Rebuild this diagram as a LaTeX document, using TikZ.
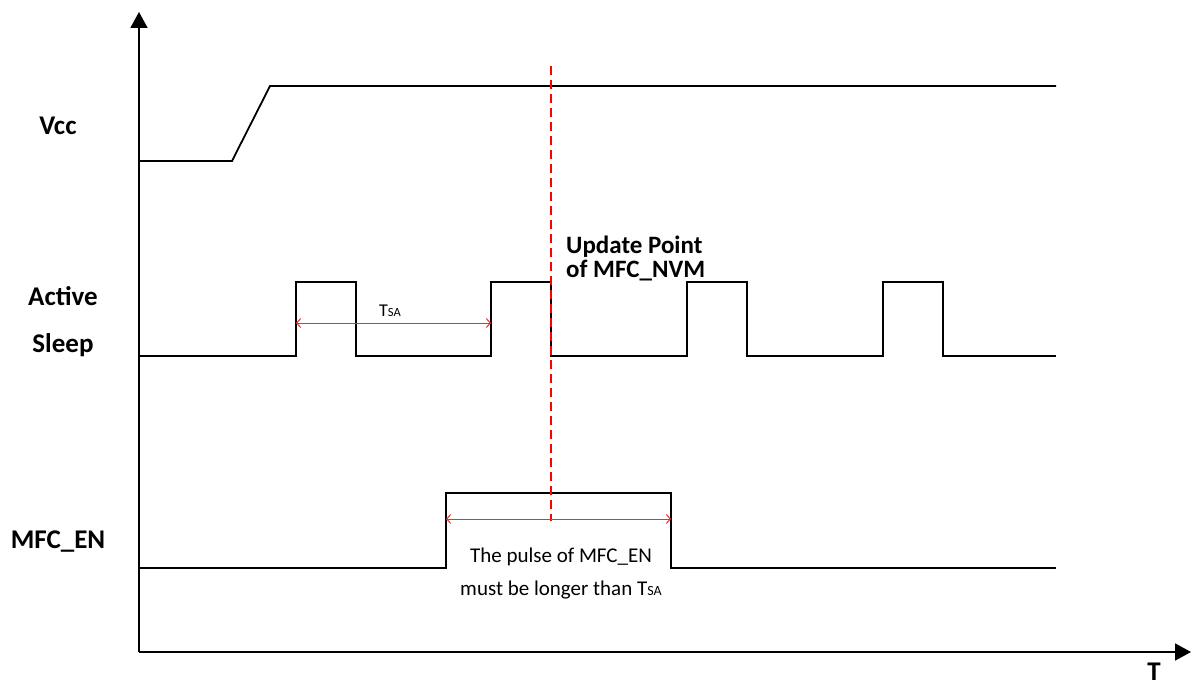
\documentclass[tikz,border=0pt]{standalone}
\usepackage{fontspec}
\setmainfont{Carlito}
\usetikzlibrary{arrows.meta}
\begin{document}
\begin{tikzpicture}[x=1pt,y=-1pt,
  sig/.style={line width=1.8pt, line join=miter},
  axis/.style={line width=1.8pt,-{Triangle[length=16pt,width=17pt]}},
  meas/.style={red!85!white, line width=1pt, {Straight Barb[length=4pt,width=9pt]}-{Straight Barb[length=4pt,width=9pt]}},
  updline/.style={red, line width=2pt, dash pattern=on 9pt off 5pt},
  lbl/.style={font=\fontsize{27}{30}\selectfont\bfseries, inner sep=0pt},
  upd/.style={font=\fontsize{25}{28}\selectfont\bfseries, inner sep=0pt},
  note/.style={font=\fontsize{21}{24}\selectfont, inner sep=0pt}]
\useasboundingbox (0,0) rectangle (1191,682);
% axes
\coordinate (o) at (139,652);
\coordinate (ytip) at (139,12);
\coordinate (xtip) at (1191,652);
\draw[axis] (o) -- (ytip);
\draw[axis] (o) -- (xtip);
% labels
\node[lbl, anchor=base] (vcc) at (58,135) {Vcc};
\node[lbl, anchor=base] (act) at (63,305) {Active};
\node[lbl, anchor=base] (slp) at (63,352) {Sleep};
\node[lbl, anchor=base] (en) at (58,548) {MFC\_EN};
\node[lbl, anchor=base] (t) at (1154,680) {T};
% Vcc waveform
\draw[sig] (139,161) -- (232,161) -- (270,86) -- (1056,86);
% Active / Sleep waveform
\draw[sig] (139,356) -- (296,356) -- (296,282) -- (356,282) -- (356,356)
  -- (491,356) -- (491,282) -- (551,282) -- (551,356)
  -- (687,356) -- (687,282) -- (747,282) -- (747,356)
  -- (883,356) -- (883,282) -- (943,282) -- (943,356) -- (1056,356);
% MFC_EN waveform
\draw[sig] (139,568) -- (446,568) -- (446,493) -- (671,493) -- (671,568) -- (1056,568);
% update point marker
\coordinate (m1) at (551,66);
\coordinate (m2) at (551,521);
\draw[updline] (m1) -- (m2);
\node[upd, anchor=base west] (u1) at (566,253) {Update Point};
\node[upd, anchor=base west] (u2) at (566,277) {of MFC\_NVM};
% TSA measurement
\coordinate (a1) at (296,323);
\coordinate (a2) at (491,323);
\draw[meas] (a1) -- (a2);
\node[anchor=base west, inner sep=0pt, font=\fontsize{18}{20}\selectfont] (tsa) at (379,316) {T{\fontsize{12.5}{13}\selectfont SA}};
% pulse measurement
\coordinate (b1) at (446,519);
\coordinate (b2) at (671,519);
\draw[meas] (b1) -- (b2);
\node[note, anchor=base] (n1) at (561,562) {The pulse of MFC\_EN};
\node[note, anchor=base] (n2) at (561,595) {must be longer than T{\fontsize{14}{15}\selectfont SA}};
\end{tikzpicture}
\end{document}
